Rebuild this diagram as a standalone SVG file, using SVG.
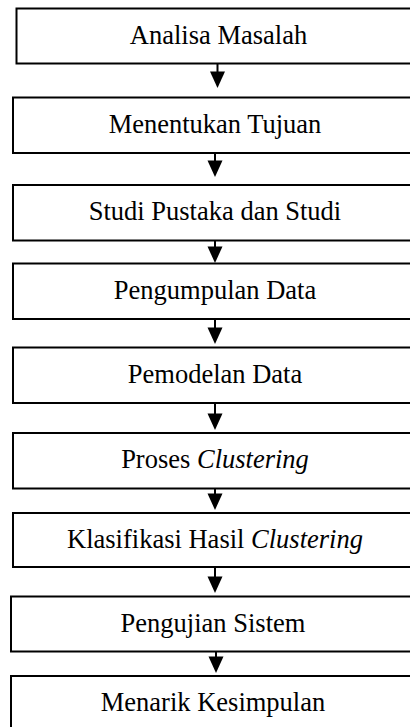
<svg xmlns="http://www.w3.org/2000/svg" width="410" height="727" viewBox="0 0 410 727">
  <style>
    .box { fill: #ffffff; stroke: #000000; stroke-width: 2; }
    .label { font-family: "Liberation Serif", "Times New Roman", serif; font-size: 26.5px; fill: #000000; text-anchor: middle; }
    .it { font-style: italic; }
    .stem { stroke: #000000; stroke-width: 2; fill: none; }
    .head { fill: #000000; stroke: none; }
  </style>
  <rect width="410" height="727" fill="#ffffff"/>

  <!-- process steps; boxes run past the right edge of the page -->
  <g id="step-1">
    <rect class="box" x="16.5" y="8.5" width="420" height="55"/>
    <text class="label" x="218.5" y="43.5">Analisa Masalah</text>
  </g>
  <g id="step-2">
    <rect class="box" x="13" y="97.5" width="420" height="55.5"/>
    <text class="label" x="215" y="132.5">Menentukan Tujuan</text>
  </g>
  <g id="step-3">
    <rect class="box" x="13" y="185" width="420" height="55.5"/>
    <text class="label" x="215" y="220">Studi Pustaka dan Studi</text>
  </g>
  <g id="step-4">
    <rect class="box" x="13" y="263.5" width="420" height="55.5"/>
    <text class="label" x="215" y="298.5">Pengumpulan Data</text>
  </g>
  <g id="step-5">
    <rect class="box" x="13" y="347.5" width="420" height="55.5"/>
    <text class="label" x="215" y="382.5">Pemodelan Data</text>
  </g>
  <g id="step-6">
    <rect class="box" x="13" y="433" width="420" height="55.5"/>
    <text class="label" x="215" y="468">Proses <tspan class="it">Clustering</tspan></text>
  </g>
  <g id="step-7">
    <rect class="box" x="13" y="513" width="420" height="54"/>
    <text class="label" x="215" y="547.5">Klasifikasi Hasil <tspan class="it">Clustering</tspan></text>
  </g>
  <g id="step-8">
    <rect class="box" x="11" y="596.5" width="420" height="55"/>
    <text class="label" x="213" y="631.5">Pengujian Sistem</text>
  </g>
  <g id="step-9">
    <rect class="box" x="11" y="676" width="420" height="56"/>
    <text class="label" x="213" y="711">Menarik Kesimpulan</text>
  </g>

  <!-- downward arrows between steps -->
  <g id="connectors">
    <line class="stem" x1="217.5" y1="63.5" x2="217.5" y2="73"/>
    <polygon class="head" points="210,71.5 225,71.5 217.5,88"/>

    <line class="stem" x1="215" y1="153" x2="215" y2="162"/>
    <polygon class="head" points="207.5,160.5 222.5,160.5 215,177"/>

    <line class="stem" x1="215" y1="240.5" x2="215" y2="248"/>
    <polygon class="head" points="207.5,246.5 222.5,246.5 215,263"/>

    <line class="stem" x1="215" y1="319" x2="215" y2="329"/>
    <polygon class="head" points="207.5,327.5 222.5,327.5 215,344"/>

    <line class="stem" x1="215" y1="403" x2="215" y2="415"/>
    <polygon class="head" points="207.5,413.5 222.5,413.5 215,430"/>

    <line class="stem" x1="215" y1="488.5" x2="215" y2="495"/>
    <polygon class="head" points="207.5,493.5 222.5,493.5 215,510"/>

    <line class="stem" x1="215" y1="567" x2="215" y2="578"/>
    <polygon class="head" points="207.5,576.5 222.5,576.5 215,593"/>

    <line class="stem" x1="216" y1="651.5" x2="216" y2="658"/>
    <polygon class="head" points="208.5,656.5 223.5,656.5 216,673"/>
  </g>
</svg>
